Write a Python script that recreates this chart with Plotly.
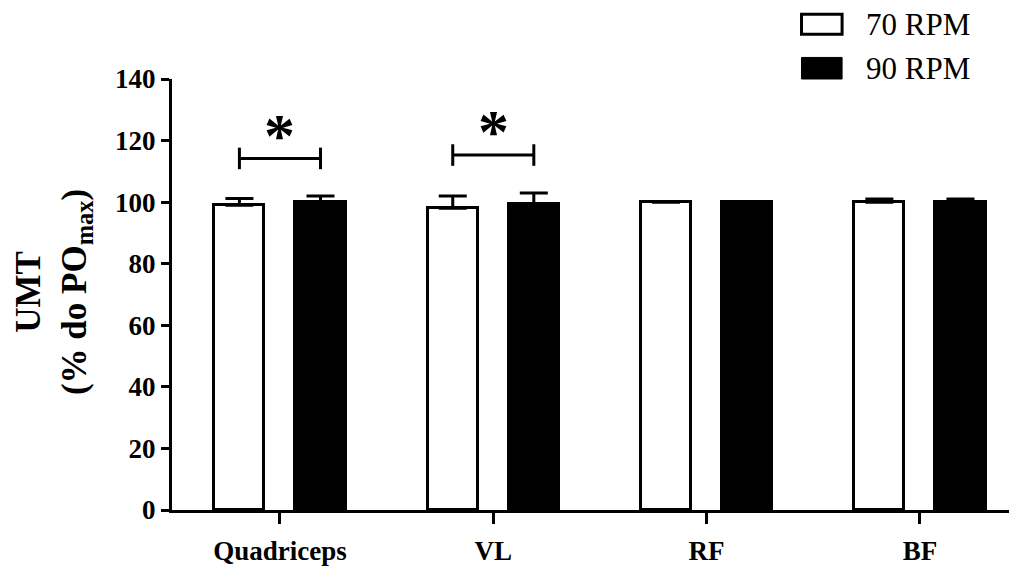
import plotly.graph_objects as go

categories = ["Quadriceps", "VL", "RF", "BF"]
rpm70 = [99, 98, 100, 100]
rpm70_err = [2.2, 4.0, 0.0, 1.0]
rpm90 = [100, 99.3, 100, 100]
rpm90_err = [2.0, 3.7, 0.0, 1.0]
series_names = ["70 RPM", "90 RPM"]
sig_groups = [0, 1]          # category indices with a significant difference
sig_bracket_y = [114.2, 115.3]
y_ticks = [0, 20, 40, 60, 80, 100, 120, 140]

FONT = "Liberation Serif"
OFF = 0.19
BW = 0.235
idx = list(range(len(categories)))

fig = go.Figure()
fig.add_trace(go.Bar(
    x=[i - OFF for i in idx], y=rpm70, width=BW, name=series_names[0],
    marker=dict(color="white", line=dict(color="black", width=3)),
    error_y=dict(type="data", array=rpm70_err, arrayminus=[0]*4, symmetric=False,
                 color="black", thickness=3, width=14),
    showlegend=False))
fig.add_trace(go.Bar(
    x=[i + OFF for i in idx], y=rpm90, width=BW, name=series_names[1],
    marker=dict(color="black", line=dict(color="black", width=3)),
    error_y=dict(type="data", array=rpm90_err, arrayminus=[0]*4, symmetric=False,
                 color="black", thickness=3, width=14),
    showlegend=False))

# significance brackets
for g, by in zip(sig_groups, sig_bracket_y):
    x0, x1 = g - OFF, g + OFF
    h = 3.5
    fig.add_trace(go.Scatter(x=[x0, x0, None, x0, x1, None, x1, x1],
                             y=[by - h, by + h, None, by, by, None, by - h, by + h],
                             mode="lines", line=dict(color="black", width=3),
                             showlegend=False, hoverinfo="skip"))
    fig.add_annotation(x=g, y=by + 11, text="<b>*</b>", showarrow=False,
                       font=dict(family=FONT, size=62, color="black"),
                       yanchor="middle", yshift=-10)

# legend (manual)
fig.add_shape(type="rect", xref="paper", yref="paper", x0=0.745, x1=0.793,
              y0=1.104, y1=1.150, line=dict(color="black", width=3), fillcolor="white")
fig.add_shape(type="rect", xref="paper", yref="paper", x0=0.745, x1=0.793,
              y0=1.000, y1=1.050, line=dict(color="black", width=1), fillcolor="black")
fig.add_annotation(xref="paper", yref="paper", x=0.819, y=1.127, text=series_names[0],
                   showarrow=False, xanchor="left", yanchor="middle",
                   font=dict(family=FONT, size=31, color="black"))
fig.add_annotation(xref="paper", yref="paper", x=0.819, y=1.025, text=series_names[1],
                   showarrow=False, xanchor="left", yanchor="middle",
                   font=dict(family=FONT, size=31, color="black"))

# y-axis title
fig.add_annotation(xref="paper", yref="paper", x=-0.140, y=0.505,
                   text="<b>UMT</b><br><b>(% do PO<sub>max</sub>)</b>",
                   showarrow=False, textangle=-90, xanchor="center", yanchor="middle",
                   font=dict(family=FONT, size=35, color="black"))

# the page body adds an 8px offset; size the figure so the visible window matches
fig.update_layout(
    width=1009, height=559,
    margin=dict(l=164, r=0, t=71, b=57, autoexpand=False),
    plot_bgcolor="white", paper_bgcolor="white",
    bargap=0,
    xaxis=dict(range=[-0.506, 3.455], tickmode="array", tickvals=idx,
               ticktext=[f"<b>{c}</b>" for c in categories],
               showline=True, linecolor="black", linewidth=3,
               ticks="outside", ticklen=11, tickwidth=3, tickcolor="black",
               showgrid=False, zeroline=False, ticklabelstandoff=4, automargin=False,
               tickfont=dict(family=FONT, size=27, color="black")),
    yaxis=dict(range=[0, 140], tickmode="array", tickvals=y_ticks,
               ticktext=[f"<b>{t}</b>" for t in y_ticks],
               showline=True, linecolor="black", linewidth=3,
               ticks="outside", ticklen=8, tickwidth=3, tickcolor="black",
               showgrid=False, zeroline=False, ticklabelstandoff=0, automargin=False,
               tickfont=dict(family=FONT, size=27, color="black")),
)

fig.write_html("out.html")
